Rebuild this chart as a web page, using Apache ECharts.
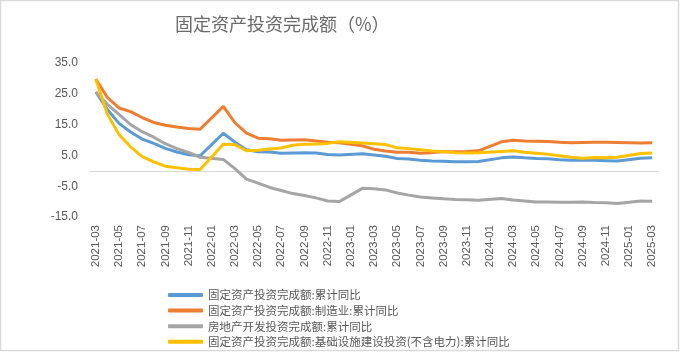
<!DOCTYPE html>
<html>
<head>
<meta charset="utf-8">
<script src="https://cdn.jsdelivr.net/npm/echarts@6/dist/echarts.min.js"></script>
<style>
  html, body { margin: 0; padding: 0; background: #fff; }
  #main { width: 681px; height: 354px; }
</style>
</head>
<body>
<div id="main"></div>
<script>
// months 2021-03 .. 2025-03 (January has no published value -> null)
var months = [
  '2021-03','2021-04','2021-05','2021-06','2021-07','2021-08','2021-09','2021-10','2021-11','2021-12',
  '2022-01','2022-02','2022-03','2022-04','2022-05','2022-06','2022-07','2022-08','2022-09','2022-10','2022-11','2022-12',
  '2023-01','2023-02','2023-03','2023-04','2023-05','2023-06','2023-07','2023-08','2023-09','2023-10','2023-11','2023-12',
  '2024-01','2024-02','2024-03','2024-04','2024-05','2024-06','2024-07','2024-08','2024-09','2024-10','2024-11','2024-12',
  '2025-01','2025-02','2025-03'
];

var fai = [
  25.6, 19.9, 15.4, 12.6, 10.3, 8.9, 7.3, 6.1, 5.2, 4.9,
  null, 12.2, 9.3, 6.8, 6.2, 6.1, 5.7, 5.8, 5.9, 5.8, 5.3, 5.1,
  null, 5.5, 5.1, 4.7, 4.0, 3.8, 3.4, 3.2, 3.1, 2.9, 2.9, 3.0,
  null, 4.2, 4.5, 4.2, 4.0, 3.9, 3.6, 3.4, 3.4, 3.4, 3.3, 3.2,
  null, 4.1, 4.2
];
var manufacturing = [
  29.8, 23.8, 20.4, 19.2, 17.3, 15.7, 14.8, 14.2, 13.7, 13.5,
  null, 20.9, 15.6, 12.2, 10.6, 10.4, 9.9, 10.0, 10.1, 9.7, 9.3, 9.1,
  null, 8.1, 7.0, 6.4, 6.0, 6.0, 5.7, 5.9, 6.2, 6.2, 6.3, 6.5,
  null, 9.4, 9.9, 9.7, 9.6, 9.5, 9.3, 9.1, 9.2, 9.3, 9.3, 9.2,
  null, 9.0, 9.1
];
var realEstate = [
  25.6, 21.6, 18.3, 15.0, 12.7, 10.9, 8.8, 7.2, 6.0, 4.4,
  null, 3.7, 0.7, -2.7, -4.0, -5.4, -6.4, -7.4, -8.0, -8.8, -9.8, -10.0,
  null, -5.7, -5.8, -6.2, -7.2, -7.9, -8.5, -8.8, -9.1, -9.3, -9.4, -9.6,
  null, -9.0, -9.5, -9.8, -10.1, -10.1, -10.2, -10.2, -10.1, -10.3, -10.4, -10.6,
  null, -9.8, -9.9
];
var infrastructure = [
  29.7, 18.4, 11.8, 7.8, 4.6, 2.9, 1.5, 1.0, 0.5, 0.4,
  null, 8.6, 8.5, 6.5, 6.7, 7.1, 7.4, 8.3, 8.6, 8.7, 8.9, 9.4,
  null, 9.0, 8.8, 8.5, 7.5, 7.2, 6.8, 6.4, 6.2, 5.9, 5.8, 5.9,
  null, 6.3, 6.5, 6.0, 5.7, 5.4, 4.9, 4.4, 4.1, 4.3, 4.2, 4.4,
  null, 5.6, 5.8
];

var seriesNames = [
  '固定资产投资完成额:累计同比',
  '固定资产投资完成额:制造业:累计同比',
  '房地产开发投资完成额:累计同比',
  '固定资产投资完成额:基础设施建设投资(不含电力):累计同比'
];
var seriesData = [fai, manufacturing, realEstate, infrastructure];
var colors = ['#5B9BD5', '#ED7D31', '#A5A5A5', '#FFC000'];

var font = '"Noto Sans CJK SC", "Noto Sans", sans-serif';
var textColor = '#595959';

var chart = echarts.init(document.getElementById('main'));

var option = {
    animation: false,
    color: colors,
    title: {
        text: '固定资产投资完成额（%）',
        left: 175,
        top: 15,
        padding: 0,
        textStyle: {
            fontFamily: font,
            fontSize: 18,
            fontWeight: 'normal',
            color: '#6a6a6a'
        }
    },
    graphic: [{
        type: 'rect',
        shape: { x: 0.5, y: 0.5, width: 678, height: 350 },
        style: { fill: 'none', stroke: '#d9d9d9', lineWidth: 1.5 },
        silent: true
    }],
    legend: {
        orient: 'vertical',
        left: 168,
        top: 289,
        height: 64,
        padding: 0,
        icon: 'roundRect',
        itemWidth: 35,
        itemHeight: 4,
        itemGap: 3.6,
        textStyle: {
            fontFamily: font,
            fontSize: 11.5,
            lineHeight: 12,
            color: textColor
        },
        data: seriesNames
    },
    grid: {
        left: 90,
        right: 23,
        top: 63,
        bottom: 137
    },
    xAxis: [{
        type: 'category',
        data: months,
        boundaryGap: true,
        position: 'bottom',
        axisLine: { onZero: true, lineStyle: { color: '#d9d9d9', width: 1 } },
        axisTick: { interval: 1, length: 4, lineStyle: { color: '#d9d9d9' } },
        axisLabel: { show: false },
        splitLine: { show: false }
    }, {
        type: 'category',
        data: months,
        boundaryGap: true,
        position: 'bottom',
        axisLine: { show: false, onZero: false },
        axisTick: { show: false },
        axisLabel: {
            interval: 1,
            rotate: 90,
            margin: 8,
            fontFamily: 'Liberation Sans, Arial, sans-serif',
            fontSize: 11.5,
            color: textColor
        },
        splitLine: { show: false }
    }],
    yAxis: {
        type: 'value',
        min: -15,
        max: 35,
        interval: 10,
        axisLine: { show: false },
        axisTick: { show: false },
        splitLine: { show: false },
        axisLabel: {
            margin: 12,
            fontFamily: 'Liberation Sans, Arial, sans-serif',
            fontSize: 12,
            color: textColor,
            formatter: function(v) { return v.toFixed(1); }
        }
    },
    series: seriesNames.map(function(name, i) {
        return {
            name: name,
            type: 'line',
            xAxisIndex: 0,
            data: seriesData[i],
            connectNulls: true,
            showSymbol: false,
            symbol: 'none',
            lineStyle: { width: 3, color: colors[i] },
            itemStyle: { color: colors[i] }
        };
    })
};

chart.setOption(option);
</script>
</body>
</html>
